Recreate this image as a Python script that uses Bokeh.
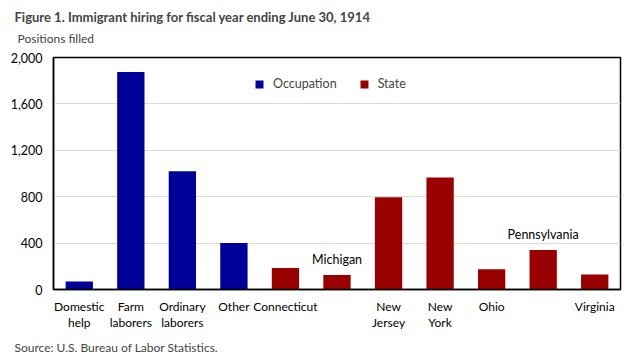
from bokeh.plotting import figure
from bokeh.models import (ColumnDataSource, FixedTicker, NumeralTickFormatter, Title,
                          Legend, LegendItem, Range1d)
from bokeh.core.properties import value
from bokeh.embed import file_html
from bokeh.resources import INLINE

# ---- data ----
axis_labels = ["Domestic\nhelp", "Farm\nlaborers", "Ordinary\nlaborers", "Other", "Connecticut",
               "", "New\nJersey", "New\nYork", "Ohio", "", "Virginia"]
names = ["Domestic help", "Farm laborers", "Ordinary laborers", "Other", "Connecticut",
         "Michigan", "New Jersey", "New York", "Ohio", "Pennsylvania", "Virginia"]
inner_labels = ["", "", "", "", "", "Michigan", "", "", "", "Pennsylvania", ""]
positions = [70, 1875, 1020, 400, 185, 125, 795, 965, 175, 340, 130]
groups = ["Occupation"] * 4 + ["State"] * 7
y_ticks = [0, 400, 800, 1200, 1600, 2000]

FONT = "Lato"
colors = {"Occupation": "#000099", "State": "#990000"}

idx = list(range(len(names)))

p = figure(width=642, height=364, output_backend="svg", toolbar_location=None, title=None,
           x_range=Range1d(-0.5, len(names) - 0.5), y_range=Range1d(0, 2000),
           min_border_left=53, min_border_right=22, min_border_top=57, min_border_bottom=75)

renderers = {}
for g in ["Occupation", "State"]:
    sel = [i for i in idx if groups[i] == g]
    src = ColumnDataSource(dict(x=sel, top=[positions[i] for i in sel]))
    renderers[g] = p.vbar(x="x", top="top", width=0.53, source=src,
                          fill_color=colors[g], line_color=None)

lab_sel = [i for i in idx if inner_labels[i]]
lab_src = ColumnDataSource(dict(x=lab_sel, y=[positions[i] for i in lab_sel],
                                t=[inner_labels[i] for i in lab_sel]))
p.text(x="x", y="y", text="t", source=lab_src, text_align="center", text_baseline="bottom",
       y_offset=-8, text_font=value(FONT), text_font_size="12.5px", text_color="black")

legend = Legend(items=[LegendItem(label="Occupation", renderers=[renderers["Occupation"]]),
                       LegendItem(label="State", renderers=[renderers["State"]])],
                orientation="horizontal", location=(201, 198),
                border_line_color=None, background_fill_alpha=0,
                label_text_font=FONT, label_text_font_size="12.5px",
                glyph_width=10, glyph_height=10, spacing=22, label_standoff=9)
p.add_layout(legend, "center")

p.xgrid.grid_line_color = None
p.ygrid.grid_line_color = "#d9d9d9"
p.outline_line_color = "black"
p.outline_line_width = 1.5
p.outline_line_alpha = 1.0

for ax in (p.xaxis[0], p.yaxis[0]):
    ax.major_tick_line_color = None
    ax.minor_tick_line_color = None
    ax.major_tick_out = 0
    ax.major_tick_in = 0
    ax.minor_tick_out = 0
    ax.axis_line_color = "black"
    ax.axis_line_width = 1.5
    ax.major_label_text_font = FONT
    ax.major_label_text_color = "black"

p.xaxis.major_label_text_font_size = "12px"
p.xaxis.major_label_text_line_height = 1.1
p.yaxis.major_label_text_font_size = "12.5px"

p.xaxis.ticker = FixedTicker(ticks=idx)
p.xaxis.major_label_overrides = {i: axis_labels[i] for i in idx}
p.xaxis.major_label_standoff = 9
p.yaxis.ticker = FixedTicker(ticks=y_ticks)
p.yaxis.formatter = NumeralTickFormatter(format="0,0")
p.yaxis.major_label_standoff = 11

# texts outside the frame
p.add_layout(Title(text="Positions filled", text_font=FONT, text_font_size="12px",
                   text_font_style="normal", align="left", vertical_align="top",
                   offset=-36, standoff=20), "above")
p.add_layout(Title(text="Figure 1. Immigrant hiring for fiscal year ending June 30, 1914",
                   text_font=FONT, text_font_size="13px", text_font_style="bold",
                   align="left", offset=-39, standoff=-8), "above")
p.add_layout(Title(text="Source: U.S. Bureau of Labor Statistics.", text_font=FONT,
                   text_font_size="12px", text_font_style="normal", align="left",
                   offset=-39, standoff=8), "below")

open("out.html", "w").write(file_html(p, INLINE))
